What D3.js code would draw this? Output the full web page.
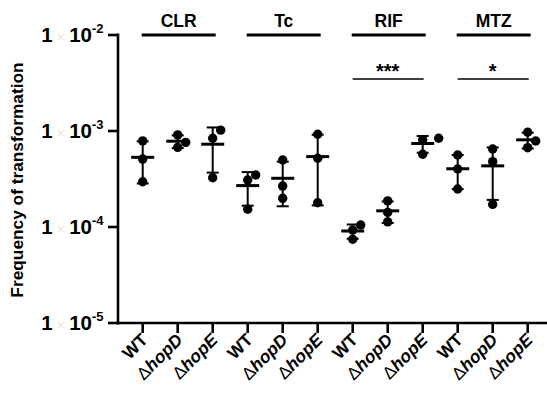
<!DOCTYPE html>
<html>
<head>
<meta charset="utf-8">
<script src="https://cdn.jsdelivr.net/npm/d3@7"></script>
<style>
  html, body { margin: 0; padding: 0; background: #fff; }
  svg { display: block; font-family: "Liberation Sans", Arial, sans-serif; }
</style>
</head>
<body>
<svg id="chart" width="547" height="395"></svg>
<script>
// ---- data ----
const antibiotics = ["CLR", "Tc", "RIF", "MTZ"];
const strains = ["WT", "ΔhopD", "ΔhopE"];
const clrValues = [[7.9e-4, 5.1e-4, 2.96e-4], [9.1e-4, 7.62e-4, 6.76e-4], [1.02e-3, 8.4e-4, 3.26e-4]];
const tcValues  = [[3.48e-4, 3.09e-4, 1.53e-4], [4.99e-4, 2.67e-4, 1.99e-4], [9.25e-4, 5.2e-4, 1.79e-4]];
const rifValues = [[1.05e-4, 9.3e-5, 7.45e-5], [1.87e-4, 1.42e-4, 1.13e-4], [8.4e-4, 8.1e-4, 5.72e-4]];
const mtzValues = [[5.62e-4, 4.02e-4, 2.49e-4], [6.49e-4, 4.79e-4, 1.72e-4], [9.7e-4, 7.87e-4, 6.7e-4]];
const yTickExponents = [-2, -3, -4, -5];
const significance = [{ group: "RIF", label: "***" }, { group: "MTZ", label: "*" }];
const yTitle = "Frequency of transformation";

const seriesByGroup = { CLR: clrValues, Tc: tcValues, RIF: rifValues, MTZ: mtzValues };

// ---- build table ----
const cats = [];
antibiotics.forEach(g => strains.forEach((s, i) => {
  cats.push({ key: g + "|" + s, group: g, strain: s, values: seriesByGroup[g][i] });
}));

const svg = d3.select("#chart");
const axisX = 118, axisBottom = 323, axisTop = 35;

const x = d3.scalePoint().domain(cats.map(c => c.key)).range([142.7, 527.7]);
const y = d3.scaleLog().domain([1e-5, 1e-2]).range([axisBottom, axisTop]);

// ---- axes ----
svg.append("line").attr("x1", axisX).attr("x2", axisX).attr("y1", axisTop - 1.5).attr("y2", axisBottom + 1.5)
  .attr("stroke", "#000").attr("stroke-width", 2.6);
svg.append("line").attr("x1", axisX - 1.3).attr("x2", 547).attr("y1", axisBottom).attr("y2", axisBottom)
  .attr("stroke", "#000").attr("stroke-width", 2.6);

// y ticks
yTickExponents.forEach(e => {
  const v = Math.pow(10, e);
  const yy = y(v);
  svg.append("line").attr("x1", axisX - 10).attr("x2", axisX).attr("y1", yy).attr("y2", yy)
    .attr("stroke", "#000").attr("stroke-width", 2.6);
  const t = svg.append("text").attr("x", 103.5).attr("y", yy + 7)
    .attr("text-anchor", "end").attr("font-weight", "bold").attr("font-size", 20.5);
  t.append("tspan").text("1");
  t.append("tspan").attr("fill", "#e6e6e6").attr("font-weight", "normal").attr("font-size", 14.5).text(" × ");
  t.append("tspan").text("10");
  t.append("tspan").attr("font-size", 13).attr("dy", -9).text("-" + (-e));
});

// y title
svg.append("text").attr("transform", "translate(23,180) rotate(-90)")
  .attr("text-anchor", "middle").attr("font-weight", "bold").attr("font-size", 17.3).text(yTitle);

// x ticks & labels
cats.forEach(c => {
  const xx = x(c.key);
  svg.append("line").attr("x1", xx).attr("x2", xx).attr("y1", axisBottom).attr("y2", axisBottom + 10)
    .attr("stroke", "#000").attr("stroke-width", 2.6);
  const t = svg.append("text").attr("transform", `translate(${xx + 6},${axisBottom + 18}) rotate(-45)`)
    .attr("text-anchor", "end").attr("font-weight", "bold").attr("font-size", 17.5);
  if (c.strain === "WT") {
    t.text("WT");
  } else {
    t.append("tspan").attr("font-weight", "normal").text("Δ");
    t.append("tspan").attr("font-style", "italic").text(c.strain.slice(1));
  }
});

// group headers
antibiotics.forEach(g => {
  const x0 = x(g + "|" + strains[0]), x1 = x(g + "|" + strains[strains.length - 1]);
  svg.append("line").attr("x1", x0 - 1).attr("x2", x1 + 3).attr("y1", axisTop).attr("y2", axisTop)
    .attr("stroke", "#000").attr("stroke-width", 3);
  svg.append("text").attr("x", (x0 + x1) / 2 + 1).attr("y", 26.5).attr("text-anchor", "middle")
    .attr("font-weight", "bold").attr("font-size", 17.5).text(g);
});

// significance
significance.forEach(s => {
  const x0 = x(s.group + "|" + strains[0]), x1 = x(s.group + "|" + strains[strains.length - 1]);
  svg.append("line").attr("x1", x0).attr("x2", x1 + 1).attr("y1", 79).attr("y2", 79)
    .attr("stroke", "#000").attr("stroke-width", 1.4);
  svg.append("text").attr("x", (x0 + x1) / 2).attr("y", 77.5).attr("text-anchor", "middle")
    .attr("font-weight", "bold").attr("font-size", 20).text(s.label);
});

// ---- data marks ----
const r = 4.7, step = 8, collide = 9;
cats.forEach(c => {
  const xx = x(c.key);
  const vals = c.values;
  const mean = d3.mean(vals), sd = d3.deviation(vals);
  const lo = mean - sd, hi = mean + sd;
  const g = svg.append("g");
  const placed = [];
  const sorted = vals.slice().sort((a, b) => a - b);
  sorted.forEach(v => {
    const py = y(v);
    const offsets = [0, step, -step, 2 * step, -2 * step];
    let px = xx;
    for (const o of offsets) {
      const cx = xx + o;
      if (placed.every(p => Math.hypot(p[0] - cx, p[1] - py) >= collide)) { px = cx; break; }
    }
    placed.push([px, py]);
  });
  placed.forEach(p => g.append("circle").attr("cx", p[0]).attr("cy", p[1]).attr("r", r).attr("fill", "#000"));
  g.append("line").attr("x1", xx).attr("x2", xx).attr("y1", y(hi)).attr("y2", y(Math.max(lo, 1e-6)))
    .attr("stroke", "#000").attr("stroke-width", 2);
  [hi, lo].forEach(v => g.append("line").attr("x1", xx - 6).attr("x2", xx + 6).attr("y1", y(v)).attr("y2", y(v))
    .attr("stroke", "#000").attr("stroke-width", 2));
  g.append("line").attr("x1", xx - 11.5).attr("x2", xx + 11.5).attr("y1", y(mean)).attr("y2", y(mean))
    .attr("stroke", "#000").attr("stroke-width", 3);
});
</script>
</body>
</html>
